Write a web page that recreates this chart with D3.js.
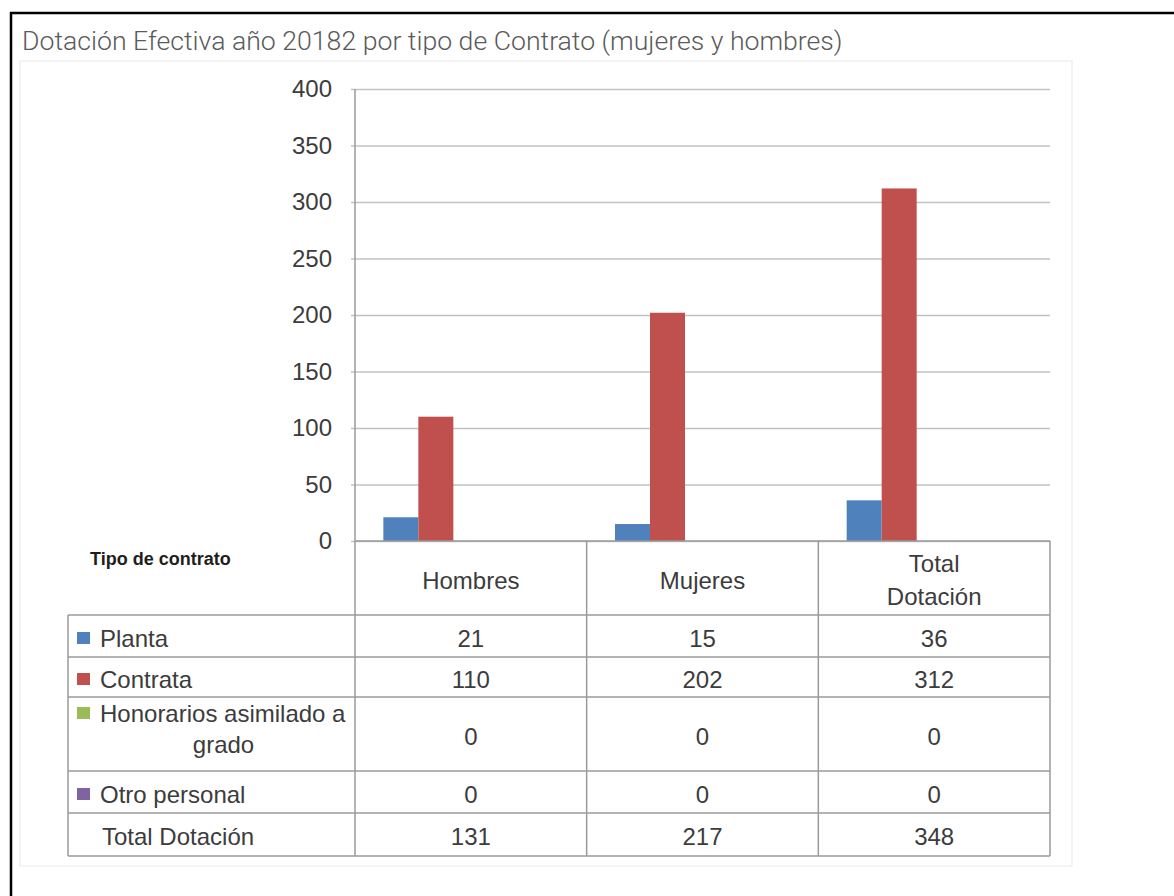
<!DOCTYPE html>
<html lang="es">
<head>
    <meta charset="utf-8" />
    <title>Dotación Efectiva</title>
    <script src="https://d3js.org/d3.v7.min.js"></script>
</head>
<style>
    body {
        margin: 0;
        background-color: #ffffff;
        font-family: "Liberation Sans", Arial, sans-serif;
    }

    .grid line {
        stroke: #c2c2c2;
        stroke-width: 1.6;
    }

    .tbl {
        stroke: #9a9a9a;
        stroke-width: 1.5;
    }

    text {
        fill: #3c3c3c;
    }
</style>
<body>
    <script>
        // data
        var categories = ["Hombres", "Mujeres", "Total Dotación"];
        var headerLabels = [["Hombres"], ["Mujeres"], ["Total", "Dotación"]];
        var seriesNames = ["Planta", "Contrata", "Honorarios asimilado a grado", "Otro personal", "Total Dotación"];
        var planta = [21, 15, 36];
        var contrata = [110, 202, 312];
        var honorarios = [0, 0, 0];
        var otroPersonal = [0, 0, 0];
        var totalDotacion = [131, 217, 348];
        var yTicks = [0, 50, 100, 150, 200, 250, 300, 350, 400];
        var seriesColors = ["#4f81bd", "#c0504d", "#9bbb59", "#8064a2", null];

        var seriesValues = [planta, contrata, honorarios, otroPersonal, totalDotacion];

        var W = 1174, H = 896;
        var plotLeft = 355, plotRight = 1050, plotTop = 89, plotBase = 541;
        var tableLeft = 68;
        // row borders of the data table under the chart
        var rowEdges = [541, 615, 657, 697, 771, 813, 856];

        var svg = d3.select("body").append("svg")
            .attr("width", W)
            .attr("height", H);

        // outer frame (top and left border of the cell)
        svg.append("line").attr("x1", 10).attr("x2", W).attr("y1", 13).attr("y2", 13)
            .attr("stroke", "#000").attr("stroke-width", 2.5);
        svg.append("line").attr("x1", 11).attr("x2", 11).attr("y1", 12).attr("y2", H)
            .attr("stroke", "#000").attr("stroke-width", 2.5);

        // faint edge of the pasted chart
        svg.append("rect").attr("x", 20).attr("y", 61).attr("width", 1052).attr("height", 805)
            .attr("fill", "none").attr("stroke", "#f0f0f0").attr("stroke-width", 1.5);

        // title, fitted to the width it has in the picture
        var title = svg.append("text")
            .attr("x", 22).attr("y", 50)
            .style("font-family", "Roboto, 'Open Sans', sans-serif")
            .style("font-weight", 300)
            .style("font-size", "28px")
            .style("fill", "#5a5a5a")
            .text("Dotación Efectiva año 20182 por tipo de Contrato (mujeres y hombres)");
        var tl = title.node().getComputedTextLength();
        title.style("font-size", (28 * 821 / tl) + "px");

        var y = d3.scaleLinear().domain([0, 400]).range([plotBase, plotTop]);
        var x0 = d3.scaleBand().domain(categories).range([plotLeft, plotRight]);
        var x1 = d3.scaleBand().domain(seriesNames).range([0, x0.bandwidth()])
            .paddingInner(0).paddingOuter(0.81);

        // gridlines + y labels
        var ya = svg.append("g")
            .attr("class", "grid")
            .attr("transform", "translate(" + plotLeft + ",0)")
            .call(d3.axisLeft(y).tickValues(yTicks).tickSize(-(plotRight - plotLeft)).tickSizeOuter(0).tickPadding(23));
        ya.select(".domain").remove();
        ya.selectAll(".tick line").attr("x1", -4);
        ya.selectAll("text")
            .style("font-family", "'Liberation Sans', Arial, sans-serif")
            .style("font-size", "24px")
            .style("fill", "#3c3c3c");

        // bars
        var groups = svg.selectAll(".cat")
            .data(categories)
            .enter().append("g")
            .attr("class", "cat")
            .attr("transform", function (d) { return "translate(" + x0(d) + ",0)"; });

        groups.selectAll("rect")
            .data(function (d, i) {
                return seriesNames.map(function (s, k) {
                    return { s: s, v: seriesValues[k][i], c: seriesColors[k] };
                }).filter(function (e) { return e.c; });
            })
            .enter().append("rect")
            .attr("x", function (d) { return x1(d.s); })
            .attr("y", function (d) { return y(d.v); })
            .attr("width", x1.bandwidth())
            .attr("height", function (d) { return plotBase - y(d.v); })
            .attr("fill", function (d) { return d.c; });

        // data table lines
        svg.append("line").attr("class", "tbl")
            .attr("x1", plotLeft).attr("x2", plotLeft).attr("y1", plotTop).attr("y2", rowEdges[6]);
        svg.append("line").attr("class", "tbl")
            .attr("x1", tableLeft).attr("x2", tableLeft).attr("y1", rowEdges[1]).attr("y2", rowEdges[6]);
        categories.forEach(function (c) {
            var xe = x0(c) + x0.bandwidth();
            svg.append("line").attr("class", "tbl")
                .attr("x1", xe).attr("x2", xe).attr("y1", rowEdges[0]).attr("y2", rowEdges[6]);
        });
        rowEdges.forEach(function (ry, i) {
            svg.append("line").attr("class", "tbl")
                .attr("x1", i == 0 ? plotLeft : tableLeft).attr("x2", plotRight)
                .attr("y1", ry).attr("y2", ry);
        });

        // header
        svg.append("text")
            .attr("x", 90).attr("y", 559)
            .attr("dominant-baseline", "central")
            .style("font-size", "18px").style("font-weight", "bold").style("fill", "#1e1e1e")
            .text("Tipo de contrato");

        categories.forEach(function (c, i) {
            var lines = headerLabels[i];
            var cy = (rowEdges[0] + rowEdges[1]) / 2 + 2;
            lines.forEach(function (t, j) {
                svg.append("text")
                    .attr("x", x0(c) + x0.bandwidth() / 2)
                    .attr("y", cy + (j - (lines.length - 1) / 2) * 33)
                    .attr("text-anchor", "middle")
                    .attr("dominant-baseline", "central")
                    .style("font-size", "24px")
                    .text(t);
            });
        });

        // rows: legend key + values
        seriesNames.forEach(function (s, k) {
            var cy = (rowEdges[k + 1] + rowEdges[k + 2]) / 2 + 2;
            var words = s == "Honorarios asimilado a grado" ? ["Honorarios asimilado a", "grado"] : [s];
            var ly = words.length > 1 ? cy - 23 : cy;
            if (seriesColors[k]) {
                svg.append("rect")
                    .attr("x", 77).attr("y", ly - 6)
                    .attr("width", 13).attr("height", 12)
                    .attr("fill", seriesColors[k]);
            }
            if (words.length > 1) {
                svg.append("text").attr("x", 100).attr("y", ly)
                    .attr("dominant-baseline", "central").style("font-size", "24px").text(words[0]);
                svg.append("text").attr("x", 223.5).attr("y", ly + 31)
                    .attr("text-anchor", "middle")
                    .attr("dominant-baseline", "central").style("font-size", "24px").text(words[1]);
            } else {
                svg.append("text").attr("x", seriesColors[k] ? 100 : 102).attr("y", ly)
                    .attr("dominant-baseline", "central").style("font-size", "24px").text(s);
            }
            categories.forEach(function (c, i) {
                svg.append("text")
                    .attr("x", x0(c) + x0.bandwidth() / 2)
                    .attr("y", cy)
                    .attr("text-anchor", "middle")
                    .attr("dominant-baseline", "central")
                    .style("font-size", "24px")
                    .text(seriesValues[k][i]);
            });
        });
    </script>
</body>
</html>
